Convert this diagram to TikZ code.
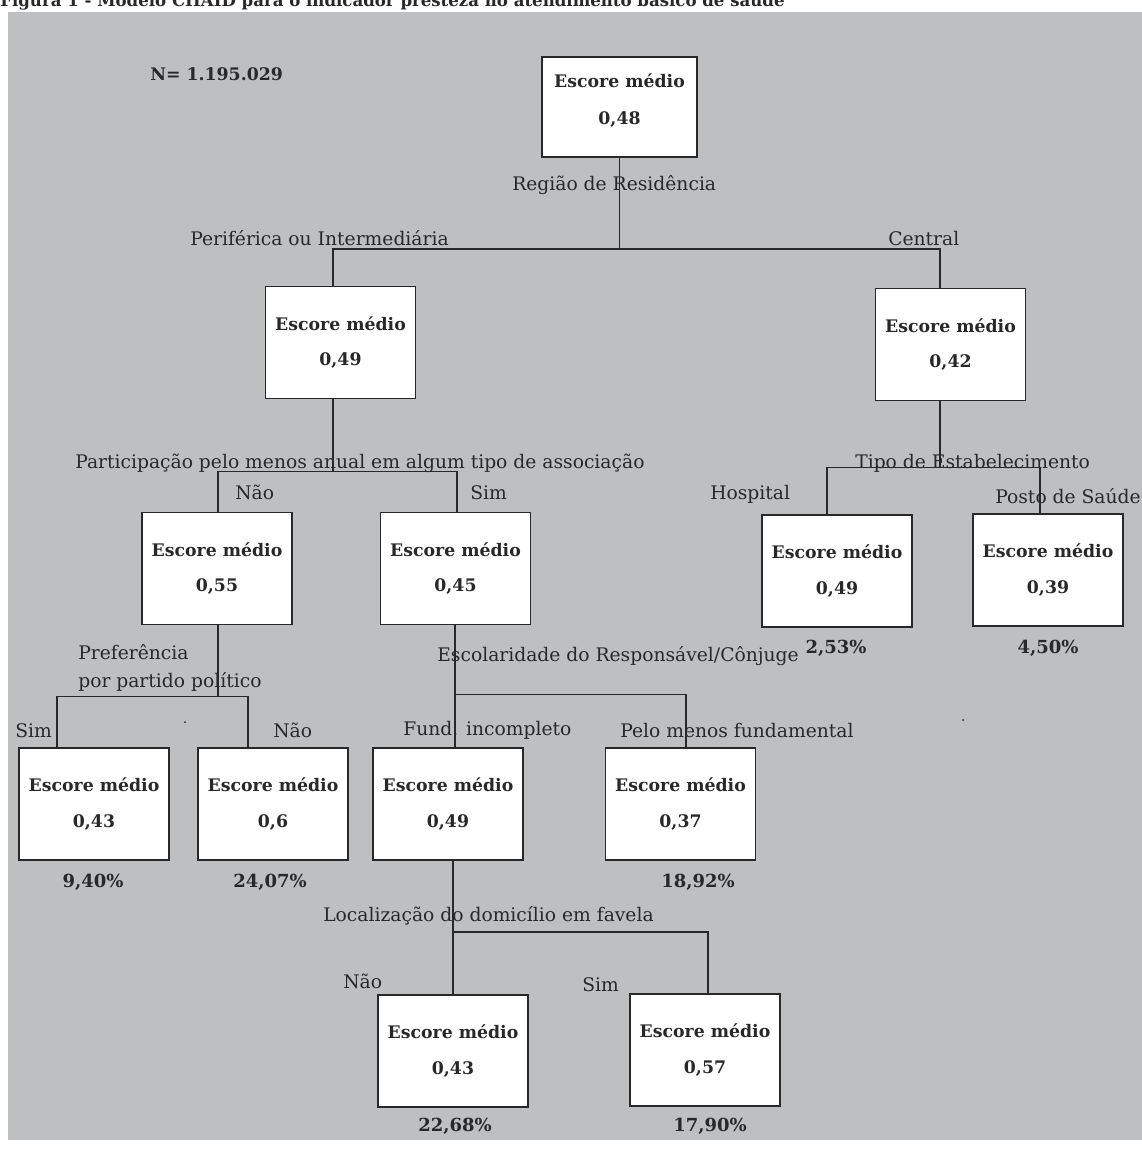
\documentclass[tikz,border=0pt]{standalone}
\usepackage{fontspec}
\setmainfont{DejaVu Serif}
\usepackage{xcolor}
\usepackage{tikz}
\usetikzlibrary{calc}
\definecolor{bggray}{RGB}{190,191,193}
\definecolor{inkgray}{RGB}{40,40,40}
\tikzset{
  scorebox/.style={
    draw=inkgray, line width=1.2pt, fill=white, align=center,
    minimum width=3.75cm, minimum height=2.8cm, inner sep=0pt,
    font=\fontsize{12.3}{15}\selectfont\bfseries, text=inkgray
  },
  splitlabel/.style={
    anchor=base west, inner sep=0pt, text=inkgray,
    font=\fontsize{13.3}{20}\selectfont
  },
  pctlabel/.style={
    inner sep=0pt, text=inkgray,
    font=\fontsize{12.8}{15}\selectfont\bfseries
  },
  treeline/.style={draw=inkgray, line width=1pt},
}

\begin{document}
\begin{tikzpicture}[x=0.025cm, y=-0.025cm]
  \useasboundingbox (0,0) rectangle (1142,1151);
  % Background
  \fill[bggray] (8,12) rectangle (1142,1140);
  \node[anchor=base west, inner sep=0pt, text=inkgray,
    font=\fontsize{11.8}{13}\selectfont\bfseries] (title) at (0,6)
    {Figura 1 - Modelo CHAID para o indicador presteza no atendimento básico de saúde};
  \node[splitlabel, font=\fontsize{12.3}{15}\selectfont\bfseries] (ntotal)
    at (150,80) {N= 1.195.029};

  % Boxes
  \node[scorebox, minimum width=3.875cm, minimum height=2.5cm] (root)
    at (619.5,107) {Escore médio\\[11pt]0,48\\[-4pt]{}};
  \node[scorebox] (n_per)   at (340.5,342.5) {Escore médio\\[10pt]0,49};
  \node[scorebox] (n_cen)   at (950.5,344.5) {Escore médio\\[10pt]0,42};
  \node[scorebox] (n_nao)   at (217,568.5)   {Escore médio\\[10pt]0,55};
  \node[scorebox] (n_sim)   at (455.5,568.5) {Escore médio\\[10pt]0,45};
  \node[scorebox] (n_hosp)  at (837,571)     {Escore médio\\[10pt]0,49};
  \node[scorebox] (n_posto) at (1048,570)    {Escore médio\\[10pt]0,39};
  \node[scorebox] (n_psim)  at (94,804)      {Escore médio\\[10pt]0,43};
  \node[scorebox] (n_pnao)  at (273,804)     {Escore médio\\[10pt]0,6};
  \node[scorebox] (n_fund)  at (448,804)     {Escore médio\\[10pt]0,49};
  \node[scorebox] (n_pelo)  at (680.5,804)   {Escore médio\\[10pt]0,37};
  \node[scorebox] (n_fnao)  at (453,1051)    {Escore médio\\[10pt]0,43};
  \node[scorebox] (n_fsim)  at (705,1050)    {Escore médio\\[10pt]0,57};

  % Splits
  \draw[treeline] (root.south) -- ++(0,91) coordinate (s_reg);
  \draw[treeline] ($(n_per.north)+(-7.5,0)$) |- (s_reg)
    -| ($(n_cen.north)+(-10.5,0)$);
  \draw[treeline] ($(n_per.south)+(-7.5,0)$) -- ++(0,72) coordinate (s_part);
  \draw[treeline] ($(n_nao.north)+(1,0)$) |- (s_part)
    -| ($(n_sim.north)+(1.5,0)$);
  \draw[treeline] ($(n_cen.south)+(-10.5,0)$) -- ++(0,66) coordinate (s_tipo);
  \draw[treeline] ($(n_hosp.north)+(-10,0)$) |- (s_tipo)
    -| ($(n_posto.north)+(-8,0)$);
  \draw[treeline] ($(n_nao.south)+(1,0)$) -- ++(0,71) coordinate (s_pref);
  \draw[treeline] ($(n_psim.north)+(-37,0)$) |- (s_pref)
    -| ($(n_pnao.north)+(-25,0)$);
  \draw[treeline] ($(n_sim.south)+(-0.5,0)$) -- ++(0,69) coordinate (s_esc);
  \draw[treeline] ($(n_fund.north)+(7,0)$) |- (s_esc)
    -| ($(n_pelo.north)+(5.5,0)$);
  \draw[treeline] (n_fund.south) ++(5,0) -- ++(0,71) coordinate (s_fav);
  \draw[treeline] (n_fnao.north) |- (s_fav) -| ($(n_fsim.north)+(3,0)$);

  % Split labels
  \node[splitlabel] (l_reg)  at (512,190) {Região de Residência};
  \node[splitlabel] (l_per)  at (190,245) {Periférica ou Intermediária};
  \node[splitlabel] (l_cen)  at (888,245) {Central};
  \node[splitlabel] (l_part) at (75,468)
    {Participação pelo menos anual em algum tipo de associação};
  \node[splitlabel] (l_nao1) at (235,499) {Não};
  \node[splitlabel] (l_sim1) at (470,499) {Sim};
  \node[splitlabel] (l_tipo) at (855,468) {Tipo de Estabelecimento};
  \node[splitlabel] (l_hosp) at (710,499) {Hospital};
  \node[splitlabel] (l_posto) at (995,503) {Posto de Saúde};
  \node[splitlabel, anchor=north west, align=left] (l_pref) at (78,644)
    {Preferência\\por partido político};
  \node[splitlabel] (l_sim2) at (15,737) {Sim};
  \node[splitlabel] (l_nao2) at (273,737) {Não};
  \node[splitlabel] (l_esc)  at (437,661) {Escolaridade do Responsável/Cônjuge};
  \node[splitlabel] (l_fund) at (403,735) {Fund. incompleto};
  \node[splitlabel] (l_pelo) at (620,737) {Pelo menos fundamental};
  \node[splitlabel] (l_fav)  at (323,921) {Localização do domicílio em favela};
  \node[splitlabel] (l_nao3) at (343,988) {Não};
  \node[splitlabel] (l_sim3) at (582,991) {Sim};

  % Percentages
  \node[pctlabel] (p_hosp)  at (836,648)   {2,53\%};
  \node[pctlabel] (p_posto) at (1048,648)  {4,50\%};
  \node[pctlabel] (p_psim)  at (93,882)    {9,40\%};
  \node[pctlabel] (p_pnao)  at (270,882)   {24,07\%};
  \node[pctlabel] (p_pelo)  at (698,882)   {18,92\%};
  \node[pctlabel] (p_fnao)  at (455,1126)  {22,68\%};
  \node[pctlabel] (p_fsim)  at (710,1126)  {17,90\%};

  % stray dots
  \fill[inkgray] (185,722) circle (1);
  \fill[inkgray] (963,720) circle (1);
\end{tikzpicture}
\end{document}
